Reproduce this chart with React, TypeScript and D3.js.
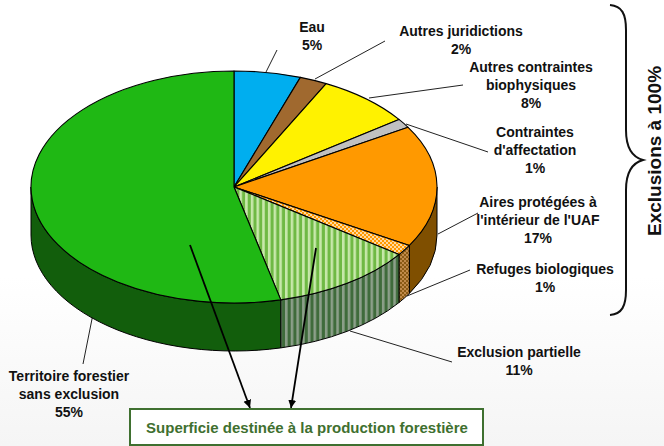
import React from 'react';
import * as d3 from 'd3';

const width = 664;
const height = 446;

// slice shares as measured on the drawing, clockwise from 12 o'clock
const categories = ['Eau', 'Autres juridictions', 'Autres contraintes biophysiques', "Contraintes d'affectation", "Aires protégées à l'intérieur de l'UAF", 'Refuges biologiques', 'Exclusion partielle', 'Territoire forestier sans exclusion'];
const shares = [5.3, 2.2, 7.6, 1.3, 17, 1.5, 11.4, 53.7];
const topFills = ['#00aeef', '#a0692f', '#fff200', '#c0c0c0', '#ff9900', 'url(#hatchTop)', 'url(#stripeTop)', '#1fb814'];
const sideFills = ['#00719b', '#68441e', '#a69d00', '#7d7d7d', '#7f4f00', 'url(#hatchSide)', 'url(#stripeSide)', '#125e0c'];

const labels = [
  { lines: ['Eau', '5%'], x: 312, y: 27 },
  { lines: ['Autres juridictions', '2%'], x: 461, y: 31 },
  { lines: ['Autres contraintes', 'biophysiques', '8%'], x: 531, y: 67 },
  { lines: ['Contraintes', "d'affectation", '1%'], x: 535, y: 132 },
  { lines: ['Aires protégées à', "l'intérieur de l'UAF", '17%'], x: 538, y: 202 },
  { lines: ['Refuges biologiques', '1%'], x: 545, y: 269 },
  { lines: ['Exclusion partielle', '11%'], x: 519, y: 352 },
  { lines: ['Territoire forestier', 'sans exclusion', '55%'], x: 69, y: 376 },
];
const leaders = [
  [[266, 72], [277, 50]],
  [[315, 79], [385, 41]],
  [[369, 98], [463, 85]],
  [[406, 124], [488, 152]],
  [[438, 234], [478, 213]],
  [[407, 296], [470, 270]],
  [[350, 331], [452, 362]],
  [[93, 314], [83, 364]],
];
const arrows = [
  [[190, 245], [250, 408]],
  [[316, 248], [291, 408]],
];

const cx = 234;
const cy = 187;
const rx = 203;
const ry = 116;
const depth = 48;
const green = '#3f7030';

const pt = (a: number, dy = 0) => [cx + rx * Math.sin(a), cy - ry * Math.cos(a) + dy];

const topPath = (a0: number, a1: number) => {
  const [x0, y0] = pt(a0);
  const [x1, y1] = pt(a1);
  return `M${cx},${cy}L${x0},${y0}A${rx},${ry} 0 ${a1 - a0 > Math.PI ? 1 : 0} 1 ${x1},${y1}Z`;
};

const sidePath = (a0: number, a1: number) => {
  const [x0, y0] = pt(a0);
  const [x1, y1] = pt(a1);
  return `M${x0},${y0}A${rx},${ry} 0 0 1 ${x1},${y1}L${x1},${y1 + depth}A${rx},${ry} 0 0 0 ${x0},${y0 + depth}Z`;
};

export default function App() {
  const arcs = d3.pie<number>().sort(null)(shares);
  // only the front half of the wall shows: right extreme to left extreme
  const front = arcs
    .map((d, i) => ({ a0: Math.max(d.startAngle, Math.PI / 2), a1: Math.min(d.endAngle, (3 * Math.PI) / 2), i }))
    .filter(d => d.a1 > d.a0);

  return (
    <svg width={width} height={height} viewBox={`0 0 ${width} ${height}`} style={{ position: 'absolute', left: 0, top: 0, fontFamily: '"Liberation Sans", Arial, sans-serif' }}>
      <defs>
        <linearGradient id="bg" x1="0" y1="0" x2="0" y2="1">
          <stop offset="0.62" stopColor="#ffffff" />
          <stop offset="1" stopColor="#f5f5f5" />
        </linearGradient>
        <pattern id="stripeTop" patternUnits="userSpaceOnUse" width="5.7" height="6">
          <rect width="5.7" height="6" fill="#c8e8ab" />
          <rect x="2.6" width="3.1" height="6" fill="#6fb944" />
        </pattern>
        <pattern id="stripeSide" patternUnits="userSpaceOnUse" width="5.7" height="6">
          <rect width="5.7" height="6" fill="#8c9f8a" />
          <rect x="2.6" width="3.1" height="6" fill="#3f6b3b" />
        </pattern>
        <pattern id="hatchTop" patternUnits="userSpaceOnUse" width="4" height="4">
          <rect width="4" height="4" fill="#ff9900" />
          <rect width="2" height="2" fill="#ffd9a0" />
          <rect x="2" y="2" width="2" height="2" fill="#ffd9a0" />
        </pattern>
        <pattern id="hatchSide" patternUnits="userSpaceOnUse" width="4" height="4">
          <rect width="4" height="4" fill="#8a5a14" />
          <rect width="2" height="2" fill="#c08a4a" />
          <rect x="2" y="2" width="2" height="2" fill="#c08a4a" />
        </pattern>
        <marker id="head" markerUnits="userSpaceOnUse" markerWidth="9" markerHeight="9" refX="8" refY="4" orient="auto">
          <path d="M0,0L8,4L0,8Z" fill="#000" />
        </marker>
      </defs>
      <rect width={width} height={height} fill="url(#bg)" />

      {leaders.map((l, i) => (
        <line key={i} x1={l[0][0]} y1={l[0][1]} x2={l[1][0]} y2={l[1][1]} stroke="#222" strokeWidth={1} />
      ))}

      {front.map(d => (
        <path key={d.i} d={sidePath(d.a0, d.a1)} fill={sideFills[d.i]} stroke="#000" strokeWidth={1} strokeLinejoin="round" />
      ))}
      {arcs.map((d, i) => (
        <path key={i} d={topPath(d.startAngle, d.endAngle)} fill={topFills[i]} stroke="#000" strokeWidth={1.1} strokeLinejoin="round">
          <title>{categories[i]}</title>
        </path>
      ))}

      {labels.map((l, i) => (
        <text key={i} x={l.x} y={l.y + 5} textAnchor="middle" fontSize={14} fontWeight="bold" fill="#111">
          {l.lines.map((t, j) => (
            <tspan key={j} x={l.x} dy={j === 0 ? 0 : 18}>{t}</tspan>
          ))}
        </text>
      ))}

      {arrows.map((a, i) => (
        <line key={i} x1={a[0][0]} y1={a[0][1]} x2={a[1][0]} y2={a[1][1]} stroke="#000" strokeWidth={1.8} markerEnd="url(#head)" />
      ))}

      <rect x={130} y={409} width={353} height={36} fill="#fff" stroke={green} strokeWidth={2} />
      <text x={307} y={433} textAnchor="middle" fontSize={15} fontWeight="bold" fill={green}>Superficie destinée à la production forestière</text>

      <path d="M610,5C622,6 626,14 626,30L626,130C626,148 632,157 643,160C632,163 626,172 626,190L626,290C626,306 622,314 610,315" fill="none" stroke="#111" strokeWidth={2} />
      <text transform="translate(661,151) rotate(-90)" textAnchor="middle" fontSize={19} fontWeight="bold" fill="#111">Exclusions à 100%</text>
    </svg>
  );
}
